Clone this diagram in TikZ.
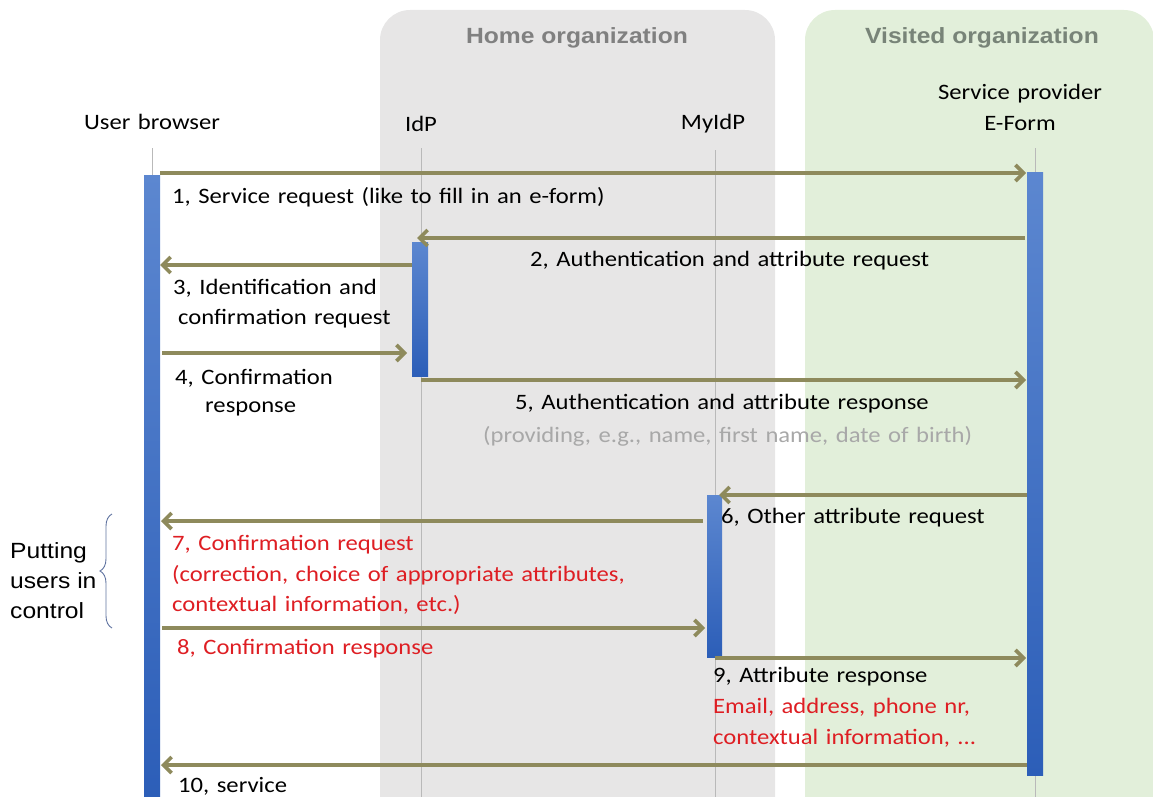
\documentclass[tikz,border=0pt]{standalone}
\usepackage{fontspec}
\setmainfont{Carlito}[FakeStretch=1.12,WordSpace=1.35]
\newfontfamily\arialf{Liberation Sans}[FakeStretch=1.12]
\usetikzlibrary{arrows.meta,decorations.pathreplacing}
\definecolor{homebg}{RGB}{231,230,230}
\definecolor{visbg}{RGB}{226,239,218}
\definecolor{msg}{RGB}{142,138,92}
\definecolor{barTop}{RGB}{92,135,208}
\definecolor{barBot}{RGB}{44,94,184}
\definecolor{redtxt}{RGB}{222,30,35}
\definecolor{graytxt}{RGB}{168,168,168}
\definecolor{hdrgray}{RGB}{128,128,128}
\definecolor{hdrgreen}{RGB}{120,132,120}
\definecolor{lifegray}{RGB}{185,185,185}
\definecolor{bracecol}{RGB}{95,115,160}
\begin{document}
\begin{tikzpicture}[x=1pt,y=-1pt,
  lbl/.style={font=\fontsize{22}{30.5}\selectfont, anchor=west, inner sep=0pt, align=left},
  headlbl/.style={font=\fontsize{22}{31}\selectfont, inner sep=0pt, align=center},
  orglbl/.style={font=\arialf\bfseries\fontsize{22}{26}\selectfont, inner sep=0pt},
  msgarrow/.style={draw=msg, line width=3.6pt, -{Straight Barb[length=8pt,width=16pt]}},
  lifeline/.style={draw=lifegray, line width=1pt},
  actbar/.style={top color=barTop, bottom color=barBot},
]
\clip (0,0) rectangle (1153,797);
% organisation backgrounds
\fill[homebg, rounded corners=30pt] (380,10) rectangle (775,850);
\fill[visbg, rounded corners=30pt] (805,10) rectangle (1154,850);
\node[orglbl, text=hdrgray] (home) at (577,38) {Home organization};
\node[orglbl, text=hdrgreen] (visited) at (982,38) {Visited organization};

% participants
\node[headlbl] (ub) at (152,122) {User browser};
\node[headlbl] (idp) at (421,124) {IdP};
\node[headlbl] (myidp) at (713,124) {MyIdP};
\node[headlbl] (sp) at (1020,107) {Service provider\\E-Form};

% lifelines
\draw[lifeline] (152,148) -- (152,797);
\draw[lifeline] (421,148) -- (421,797);
\draw[lifeline] (715,150) -- (715,797);
\draw[lifeline] (1035,148) -- (1035,797);

% activation bars
\shade[actbar] (144,175) rectangle (160,797);
\shade[actbar] (412,242) rectangle (428,376);
\shade[actbar] (707,495) rectangle (722,657);
\shade[actbar] (1027,172) rectangle (1043,775);

% message end points
\coordinate (m1s) at (160,173);  \coordinate (m1e) at (1026,173);
\coordinate (m2s) at (1025,238); \coordinate (m2e) at (417,238);
\coordinate (m3s) at (412,265);  \coordinate (m3e) at (160,265);
\coordinate (m4s) at (162,353);  \coordinate (m4e) at (407,353);
\coordinate (m5s) at (421,380);  \coordinate (m5e) at (1026,380);
\coordinate (m6s) at (1027,495); \coordinate (m6e) at (719,495);
\coordinate (m7s) at (703,521);  \coordinate (m7e) at (161,521);
\coordinate (m8s) at (162,628);  \coordinate (m8e) at (705,628);
\coordinate (m9s) at (715,658);  \coordinate (m9e) at (1026,658);
\coordinate (m10s) at (1027,765); \coordinate (m10e) at (161,765);

\draw[msgarrow] (m1s) -- (m1e);
\draw[msgarrow] (m2s) -- (m2e);
\draw[msgarrow] (m3s) -- (m3e);
\draw[msgarrow] (m4s) -- (m4e);
\draw[msgarrow] (m5s) -- (m5e);
\draw[msgarrow] (m6s) -- (m6e);
\draw[msgarrow] (m7s) -- (m7e);
\draw[msgarrow] (m8s) -- (m8e);
\draw[msgarrow] (m9s) -- (m9e);
\draw[msgarrow] (m10s) -- (m10e);

% message labels
\node[lbl] (l1) at (172,197) {1, Service request (like to fill in an e-form)};
\node[lbl] (l2) at (530,261) {2, Authentication and attribute request};
\node[lbl] (l3a) at (173,288) {3, Identification and};
\node[lbl] (l3b) at (178,319) {confirmation request};
\node[lbl] (l4a) at (175,378) {4, Confirmation};
\node[lbl] (l4b) at (205,409) {response};
\node[lbl] (l5a) at (515,404) {5, Authentication and attribute response};
\node[lbl, text=graytxt] (l5b) at (483,436) {(providing, e.g., name, first name, date of birth)};
\node[lbl] (l6) at (721,518) {6, Other attribute request};
\node[lbl, text=redtxt] (l7) at (172,575) {7, Confirmation request\\(correction, choice of appropriate attributes,\\contextual information, etc.)};
\node[lbl, text=redtxt] (l8) at (177,649) {8, Confirmation response};
\node[lbl] (l9a) at (713,677) {9, Attribute response};
\node[lbl, text=redtxt] (l9b) at (713,723) {Email, address, phone nr,\\contextual information, ...};
\node[lbl] (l10) at (178,786) {10, service};

% brace
\coordinate (brb) at (112,628);
\coordinate (brt) at (112,514);
\draw[bracecol, line width=0.9pt, decorate, decoration={brace, amplitude=12pt}] (brb) -- (brt);
\node[font=\arialf\fontsize{22}{30}\selectfont, anchor=west, align=left, inner sep=0pt] (put) at (10,581) {Putting\\users in\\control};
\end{tikzpicture}
\end{document}
